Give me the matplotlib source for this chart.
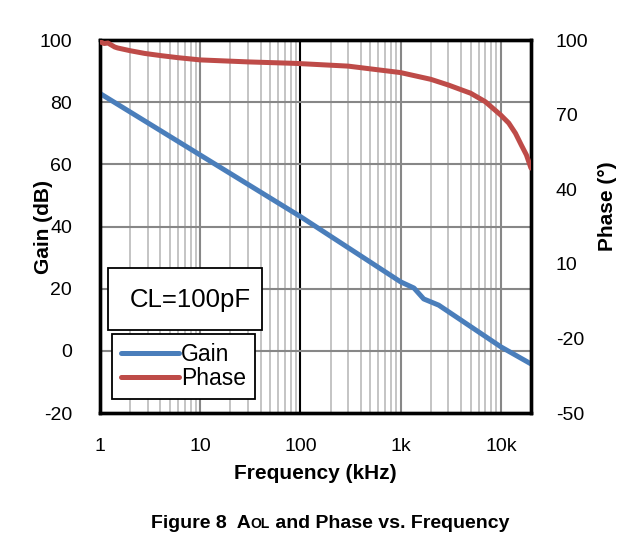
import matplotlib
matplotlib.use("Agg")
import matplotlib.pyplot as plt
from matplotlib.ticker import FixedLocator, NullFormatter, FixedFormatter

plt.rcParams['font.family'] = ['Liberation Sans', 'DejaVu Sans']
plt.rcParams['axes.unicode_minus'] = False

# data (kHz, dB, degrees)
gain_f = [1, 10, 100, 1000, 1360, 1700, 2400, 10000, 20000]
gain_db = [82.8, 63.0, 43.2, 22.2, 20.2, 16.7, 14.7, 1.3, -4.2]

phase_f = [1, 1.1, 1.2, 1.4, 1.5, 2, 2.8, 4.1, 6, 10, 30, 90, 300, 1000,
           2000, 3000, 5000, 7000, 10000, 12000, 14000, 16000, 18000, 20000]
phase_deg = [99.3, 98.6, 98.8, 97.2, 96.8, 95.7, 94.6, 93.7, 92.9, 92.0, 91.2,
             90.6, 89.5, 86.9, 84.2, 81.9, 78.6, 75.2, 69.8, 66.6, 62.5, 57.8,
             53.8, 48.5]

x_ticks = [1, 10, 100, 1000, 10000]
x_labels = ['1', '10', '100', '1k', '10k']
gain_ticks = [-20, 0, 20, 40, 60, 80, 100]
phase_ticks = [-50, -20, 10, 40, 70, 100]

blue = '#4a7ebb'
red = '#be4b48'

fig = plt.figure(figsize=(6.44, 5.52), dpi=100)
ax = fig.add_axes([0.1553, 0.2518, 0.6692, 0.6757])

ax.set_xscale('log')
ax.set_xlim(1, 20000)
ax.set_ylim(-20, 100)

minors = [m * 10 ** d for d in range(0, 5) for m in range(2, 10) if m * 10 ** d < 20000]
for v in minors:
    ax.axvline(v, color='#bfbfbf', lw=1.3, zorder=1)
for v in [10, 1000, 10000]:
    ax.axvline(v, color='#878787', lw=1.5, zorder=1)
ax.axvline(100, color='black', lw=1.5, zorder=1)
for v in gain_ticks[1:-1]:
    ax.axhline(v, color='#878787', lw=1.5, zorder=1)

ax.xaxis.set_major_locator(FixedLocator(x_ticks))
ax.xaxis.set_major_formatter(FixedFormatter(x_labels))
ax.xaxis.set_minor_locator(FixedLocator([]))
ax.xaxis.set_minor_formatter(NullFormatter())
ax.set_yticks(gain_ticks)
ax.tick_params(axis='both', length=0, labelsize=14)
ax.tick_params(axis='x', pad=18)
ax.tick_params(axis='y', pad=20)

g_line, = ax.plot(gain_f, gain_db, color=blue, lw=3.6, zorder=3,
                  solid_capstyle='round', label='Gain')

ax2 = ax.twinx()
ax2.set_ylim(-50, 100)
ax2.set_yticks(phase_ticks)
ax2.tick_params(axis='y', length=0, labelsize=14, pad=18)
p_line, = ax2.plot(phase_f, phase_deg, color=red, lw=3.6, zorder=3,
                   solid_capstyle='round', label='Phase')

for a in (ax, ax2):
    for s in a.spines.values():
        s.set_linewidth(2.4)
        s.set_color('black')

ax.set_ylabel('Gain (dB)', fontsize=15, fontweight='bold')
ax.yaxis.set_label_coords(-0.11, 0.5)
ax2.set_ylabel('Phase (°)', fontsize=15, fontweight='bold')
ax2.yaxis.set_label_coords(1.155, 0.555)
ax.set_xlabel('Frequency (kHz)', fontsize=15, fontweight='bold')
ax.xaxis.set_label_coords(0.5, -0.136)

# CL annotation box
ax2.add_patch(plt.Rectangle((0.0186, 0.2225), 0.357, 0.1665, transform=ax2.transAxes,
                            facecolor='white', edgecolor='black', lw=1.3, zorder=5))
ax2.text(0.209, 0.302, 'CL=100pF', transform=ax2.transAxes, fontsize=18.5,
         ha='center', va='center', zorder=6)

leg = ax2.legend(handles=[g_line, p_line], loc='lower left',
                 bbox_to_anchor=(0.028, 0.0375), borderaxespad=0, fontsize=16.5,
                 frameon=True, fancybox=False, edgecolor='black', framealpha=1,
                 handlelength=2.5, handletextpad=0.12, labelspacing=0.02,
                 borderpad=0.4)
leg.get_frame().set_linewidth(1.3)
leg.set_zorder(6)

# caption with small-caps subscript
fig.canvas.draw()
r = fig.canvas.get_renderer()
parts = [('Figure 8  A', 14), ('OL', 10), (' and Phase vs. Frequency', 14)]
texts = [fig.text(0, 0.044, s, fontsize=fs, fontweight='bold', va='baseline')
         for s, fs in parts]
widths = [t.get_window_extent(r).width for t in texts]
x = 330 - sum(widths) / 2
for t, w in zip(texts, widths):
    t.set_x(x / fig.bbox.width)
    x += w

fig.savefig('out.png', dpi=100)
